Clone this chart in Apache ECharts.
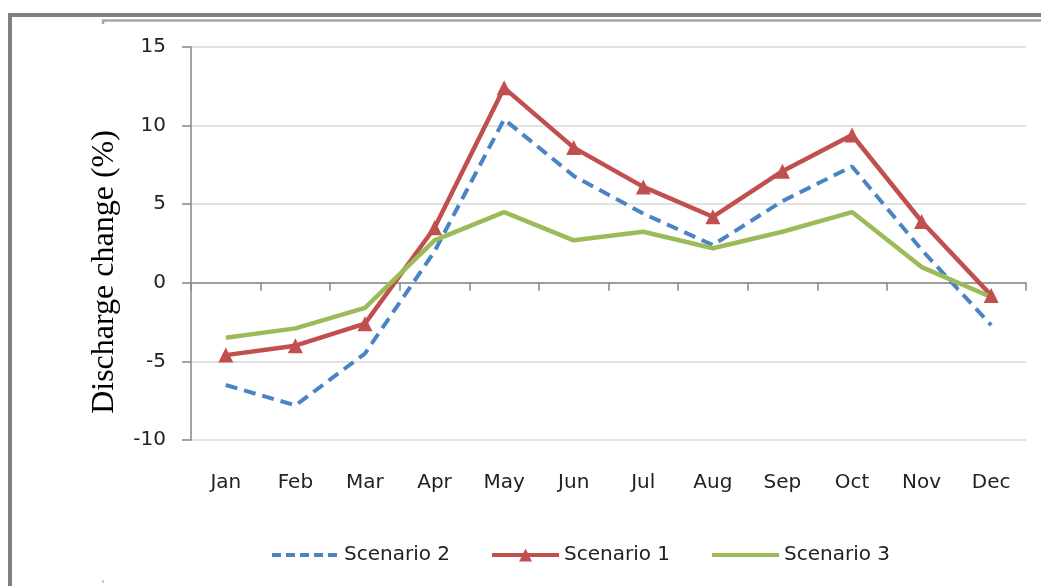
<!DOCTYPE html>
<html>
<head>
<meta charset="utf-8">
<script src="https://cdn.jsdelivr.net/npm/echarts@6/dist/echarts.min.js"></script>
<style>
  html, body { margin: 0; padding: 0; background: #ffffff; }
  #chart { width: 1041px; height: 586px; }
</style>
</head>
<body>
<div id="chart"></div>
<script>
// Monthly discharge change (%) under three scenarios
const months = ['Jan', 'Feb', 'Mar', 'Apr', 'May', 'Jun', 'Jul', 'Aug', 'Sep', 'Oct', 'Nov', 'Dec'];
const scenario2 = [-6.5, -7.8, -4.5, 2.0, 10.4, 6.8, 4.4, 2.4, 5.2, 7.4, 2.1, -2.7];
const scenario1 = [-4.6, -4.0, -2.6, 3.5, 12.4, 8.6, 6.1, 4.2, 7.1, 9.4, 3.9, -0.8];
const scenario3 = [-3.5, -2.9, -1.6, 2.7, 4.5, 2.7, 3.25, 2.2, 3.25, 4.5, 1.0, -0.9];
const yTicks = { min: -10, max: 15, step: 5 };

const tickFont = "'DejaVu Sans', sans-serif";
const blue = '#4a84c6';
const red = '#c0504d';
const green = '#9bbb59';
const chart = echarts.init(document.getElementById('chart'), null, { renderer: 'canvas' });

chart.setOption({
  animation: false,
  backgroundColor: '#ffffff',
  grid: { left: 191, right: 15, top: 47, bottom: 146, containLabel: false },
  legend: {
    left: 265,
    top: 540,
    itemWidth: 67,
    itemHeight: 16,
    itemGap: 40,
    textStyle: { fontFamily: tickFont, fontSize: 20, color: '#222' },
    data: [
      { name: 'Scenario 2', itemStyle: { opacity: 0 }, lineStyle: { width: 4, type: [9, 5], color: blue } },
      { name: 'Scenario 1', lineStyle: { width: 4, color: red } },
      { name: 'Scenario 3', itemStyle: { opacity: 0 }, lineStyle: { width: 4, color: green } }
    ]
  },
  xAxis: [
    {
      type: 'category',
      data: months,
      boundaryGap: true,
      position: 'bottom',
      axisLine: { show: true, onZero: true, lineStyle: { color: '#868686', width: 1.5 } },
      axisTick: { show: true, length: 8, inside: false, lineStyle: { color: '#868686', width: 1.5 } },
      axisLabel: { show: false },
      splitLine: { show: false }
    },
    {
      type: 'category',
      data: months,
      boundaryGap: true,
      position: 'bottom',
      axisLine: { show: false, onZero: false },
      axisTick: { show: false },
      axisLabel: { show: true, margin: 33, fontFamily: tickFont, fontSize: 20, color: '#222' },
      splitLine: { show: false }
    }
  ],
  yAxis: {
    type: 'value',
    min: yTicks.min,
    max: yTicks.max,
    interval: yTicks.step,
    axisLine: { show: true, lineStyle: { color: '#868686', width: 1.5 } },
    axisTick: { show: true, length: 9, inside: false, lineStyle: { color: '#868686', width: 1.5 } },
    axisLabel: { margin: 25, fontFamily: tickFont, fontSize: 20, color: '#222' },
    splitLine: { show: true, lineStyle: { color: '#d9d9d9', width: 1.5 } }
  },
  series: [
    {
      name: 'Scenario 2',
      type: 'line',
      xAxisIndex: 0,
      data: scenario2,
      symbol: 'none',
      lineStyle: { color: blue, width: 4, type: [12, 7] },
      itemStyle: { color: blue }
    },
    {
      name: 'Scenario 1',
      type: 'line',
      xAxisIndex: 0,
      data: scenario1,
      symbol: 'triangle',
      symbolSize: 15,
      lineStyle: { color: red, width: 4.5 },
      itemStyle: { color: red }
    },
    {
      name: 'Scenario 3',
      type: 'line',
      xAxisIndex: 0,
      data: scenario3,
      symbol: 'none',
      lineStyle: { color: green, width: 4.5 },
      itemStyle: { color: green }
    }
  ],
  graphic: [
    {
      type: 'polyline',
      shape: { points: [[10, 586], [10, 15], [1041, 15]] },
      style: { stroke: '#808080', lineWidth: 4, fill: null },
      silent: true
    },
    {
      type: 'polyline',
      shape: { points: [[103, 24], [103, 20.5], [1041, 20.5]] },
      style: { stroke: '#a6a6a6', lineWidth: 2.5, fill: null },
      silent: true
    },
    {
      type: 'rect',
      shape: { x: 102, y: 580, width: 2, height: 3 },
      style: { fill: '#c8c8c8' },
      silent: true
    },
    {
      type: 'text',
      x: 105,
      y: 272,
      rotation: Math.PI / 2,
      style: {
        text: 'Discharge change (%)',
        fontFamily: "'Liberation Serif', 'Times New Roman', serif",
        fontSize: 32,
        fill: '#000',
        textAlign: 'center',
        textVerticalAlign: 'middle'
      },
      silent: true
    }
  ]
});
</script>
</body>
</html>
